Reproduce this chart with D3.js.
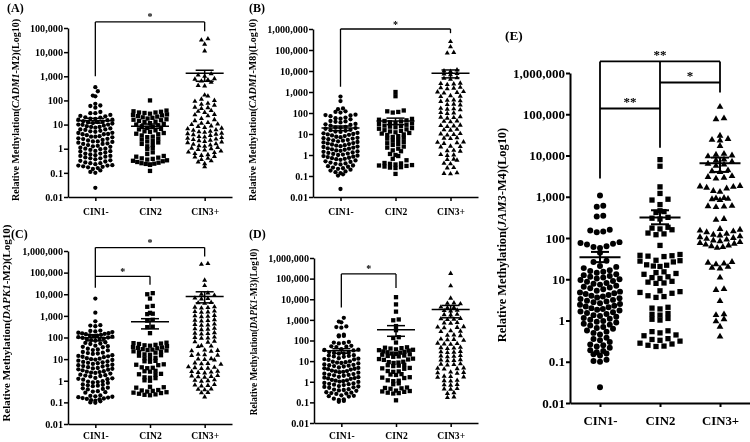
<!DOCTYPE html>
<html>
<head>
<meta charset="utf-8">
<script src="https://cdn.jsdelivr.net/npm/d3@7"></script>
<style>
  body { margin: 0; background: #fff; }
  svg { will-change: transform; }
  svg text { font-family: "Liberation Serif", "Times New Roman", serif; font-weight: bold; fill: #000; }
</style>
</head>
<body>
<div id="chart"></div>
<script>
const groups = ['CIN1-', 'CIN2', 'CIN3+'];
const ticks5 = [0.01, 0.1, 1, 10, 100, 1000, 10000, 100000];
const ticks6 = [0.01, 0.1, 1, 10, 100, 1000, 10000, 100000, 1000000];

// relative methylation, stored as log10 of the value
const aCin1 = [2.55,2.38,2.2,2.17,1.86,1.79,1.77,1.7,1.52,1.47,1.47,1.4,1.36,1.34,1.3,1.29,1.25,1.24,1.2,1.2,1.18,1.14,1.12,1.1,1.1,1.06,1.04,1.0,1.0,0.99,0.96,0.93,0.9,0.9,0.87,0.84,0.8,0.8,0.78,0.74,0.72,0.7,0.66,0.65,0.61,0.6,0.6,0.56,0.52,0.5,0.5,0.47,0.43,0.41,0.4,0.36,0.34,0.3,0.3,0.28,0.25,0.22,0.2,0.2,0.15,0.12,0.1,0.08,0.04,0.0,0.0,-0.02,-0.05,-0.09,-0.1,-0.12,-0.16,-0.2,-0.2,-0.24,-0.27,-0.3,-0.3,-0.33,-0.36,-0.4,-0.4,-0.44,-0.48,-0.5,-0.53,-0.57,-0.6,-0.6,-0.64,-0.68,-0.7,-0.7,-0.73,-0.75,-0.77,-0.8,-0.84,-0.9,-0.96,-1.0,-1.62];
const aCin2 = [2.0,1.58,1.55,1.53,1.5,1.5,1.48,1.45,1.42,1.4,1.38,1.35,1.33,1.3,1.28,1.25,1.22,1.2,1.18,1.15,1.12,1.1,1.06,1.03,1.0,0.97,0.93,0.9,0.86,0.82,0.8,0.76,0.72,0.7,0.65,0.62,0.6,0.55,0.5,0.48,0.42,0.38,0.32,0.3,0.26,0.2,0.15,0.1,0.03,-0.02,-0.15,-0.22,-0.3,-0.33,-0.37,-0.4,-0.42,-0.45,-0.48,-0.5,-0.52,-0.55,-0.58,-0.6,-0.62,-0.63,-0.65,-0.67,-0.92];
const aCin3 = [4.55,4.5,4.33,4.05,3.1,3.05,3.0,2.9,2.88,2.85,2.8,2.75,2.62,2.6,2.22,2.18,2.05,2.0,1.96,1.88,1.84,1.8,1.72,1.7,1.66,1.58,1.55,1.5,1.42,1.4,1.36,1.25,1.2,1.16,1.08,1.05,1.02,1.0,0.94,0.92,0.88,0.85,0.82,0.78,0.76,0.72,0.7,0.68,0.64,0.62,0.6,0.58,0.55,0.5,0.48,0.46,0.43,0.4,0.38,0.35,0.33,0.3,0.28,0.25,0.2,0.18,0.15,0.12,0.1,0.05,0.02,0.0,-0.03,-0.06,-0.1,-0.14,-0.16,-0.2,-0.25,-0.28,-0.32,-0.35,-0.4,-0.45,-0.5,-0.55,-0.62,-0.75];

const bCin1 = [2.78,2.57,2.22,2.18,2.08,2.05,2.02,1.92,1.9,1.88,1.85,1.78,1.75,1.73,1.7,1.62,1.6,1.58,1.55,1.48,1.46,1.43,1.4,1.34,1.32,1.3,1.28,1.25,1.2,1.18,1.15,1.12,1.1,1.05,1.03,1.0,0.98,0.96,0.93,0.9,0.87,0.85,0.82,0.8,0.78,0.75,0.72,0.7,0.68,0.65,0.62,0.6,0.57,0.55,0.52,0.5,0.47,0.45,0.42,0.4,0.38,0.35,0.32,0.3,0.27,0.25,0.22,0.2,0.17,0.15,0.12,0.1,0.07,0.05,0.02,0.0,-0.03,-0.05,-0.08,-0.1,-0.13,-0.15,-0.18,-0.2,-0.23,-0.26,-0.3,-0.33,-0.36,-0.4,-0.42,-0.45,-0.5,-0.53,-0.56,-0.6,-0.63,-0.66,-0.7,-0.74,-0.78,-0.82,-0.86,-0.92,-0.98,-1.62];
const bCin2 = [3.0,2.8,2.12,2.08,2.05,2.02,1.72,1.68,1.65,1.62,1.6,1.56,1.52,1.5,1.47,1.44,1.4,1.38,1.35,1.32,1.28,1.25,1.22,1.18,1.15,1.12,1.08,1.05,1.02,0.98,0.95,0.9,0.86,0.82,0.78,0.72,0.68,0.62,0.56,0.52,0.48,0.4,0.35,0.3,0.22,0.18,0.05,0.0,-0.05,-0.18,-0.25,-0.38,-0.4,-0.42,-0.45,-0.48,-0.5,-0.52,-0.55,-0.58,-0.6,-0.62,-0.9];
const bCin3 = [5.4,5.15,4.88,4.85,4.05,4.0,3.98,3.88,3.85,3.82,3.68,3.65,3.6,3.42,3.4,3.38,3.35,3.22,3.2,3.18,3.15,3.02,3.0,2.98,2.95,2.82,2.8,2.78,2.62,2.6,2.58,2.55,2.42,2.4,2.38,2.22,2.2,2.18,2.15,2.02,2.0,1.98,1.82,1.8,1.78,1.75,1.62,1.6,1.58,1.42,1.4,1.38,1.35,1.22,1.2,1.18,1.02,1.0,0.98,0.95,0.82,0.8,0.78,0.62,0.6,0.58,0.55,0.42,0.4,0.38,0.22,0.2,0.18,0.02,0.0,-0.02,-0.2,-0.22,-0.25,-0.4,-0.42,-0.6,-0.62,-0.85,-0.88,-0.9];

const cCin1 = [3.8,3.15,2.75,2.57,2.55,2.52,2.32,2.3,2.28,2.25,2.22,2.2,2.19,2.17,2.15,2.12,2.1,2.08,2.06,2.04,2.02,2.0,1.98,1.95,1.92,1.9,1.88,1.85,1.78,1.75,1.72,1.7,1.62,1.6,1.57,1.55,1.48,1.45,1.42,1.4,1.33,1.3,1.28,1.26,1.24,1.18,1.15,1.13,1.11,1.09,1.04,1.02,1.0,0.98,0.96,0.93,0.89,0.87,0.85,0.83,0.81,0.78,0.74,0.72,0.7,0.68,0.66,0.63,0.59,0.57,0.55,0.53,0.51,0.48,0.44,0.42,0.4,0.38,0.36,0.33,0.28,0.26,0.24,0.22,0.2,0.13,0.11,0.09,0.07,0.05,-0.02,-0.04,-0.06,-0.08,-0.1,-0.17,-0.19,-0.21,-0.23,-0.25,-0.32,-0.35,-0.38,-0.4,-0.48,-0.5,-0.53,-0.55,-0.68,-0.7,-0.72,-0.74,-0.76,-0.78,-0.8,-0.82,-0.84,-0.86,-0.9,-0.92,-0.95,-1.0,-1.02];
const cCin2 = [4.05,4.0,3.8,3.46,3.42,3.14,3.1,3.08,2.82,2.78,2.5,2.48,2.2,1.76,1.74,1.72,1.7,1.66,1.64,1.62,1.6,1.56,1.54,1.52,1.5,1.46,1.44,1.42,1.4,1.36,1.34,1.32,1.3,1.22,1.2,1.18,1.16,1.06,1.04,1.02,0.92,0.9,0.88,0.76,0.74,0.72,0.62,0.6,0.58,0.46,0.44,0.42,0.32,0.3,0.28,0.16,0.14,0.12,0.02,0.0,-0.28,-0.3,-0.32,-0.43,-0.45,-0.47,-0.5,-0.53,-0.55,-0.57,-0.6,-0.63,-0.65,-0.67];
const cCin3 = [5.42,5.38,4.65,4.4,4.05,4.0,3.95,3.82,3.8,3.78,3.62,3.6,3.58,3.42,3.4,3.38,3.36,3.22,3.2,3.18,3.16,3.02,3.0,2.98,2.96,2.82,2.8,2.78,2.76,2.62,2.6,2.58,2.56,2.42,2.4,2.38,2.36,2.22,2.2,2.18,2.16,2.02,2.0,1.98,1.96,1.82,1.8,1.78,1.62,1.6,1.58,1.42,1.4,1.38,1.36,1.22,1.2,1.18,1.16,1.02,1.0,0.98,0.96,0.82,0.8,0.78,0.76,0.64,0.62,0.6,0.58,0.56,0.44,0.42,0.4,0.38,0.36,0.24,0.22,0.2,0.18,0.16,0.04,0.02,0.0,-0.02,-0.18,-0.2,-0.22,-0.24,-0.38,-0.4,-0.42,-0.54,-0.56,-0.75];

const dCin1 = [3.1,2.92,2.88,2.68,2.65,2.62,2.28,2.25,2.22,2.2,1.93,1.9,1.88,1.86,1.74,1.72,1.7,1.68,1.58,1.56,1.54,1.52,1.44,1.42,1.4,1.38,1.36,1.29,1.27,1.25,1.23,1.21,1.14,1.12,1.1,1.08,1.06,0.99,0.97,0.95,0.93,0.91,0.89,0.84,0.82,0.8,0.78,0.76,0.74,0.69,0.67,0.65,0.63,0.61,0.59,0.54,0.52,0.5,0.48,0.46,0.44,0.39,0.37,0.35,0.33,0.31,0.29,0.24,0.22,0.2,0.18,0.16,0.14,0.09,0.07,0.05,0.03,0.01,-0.01,-0.06,-0.08,-0.1,-0.12,-0.14,-0.16,-0.21,-0.23,-0.25,-0.27,-0.29,-0.36,-0.38,-0.4,-0.42,-0.44,-0.51,-0.53,-0.55,-0.57,-0.59,-0.66,-0.68,-0.7,-0.72,-0.82,-0.85,-0.88,-0.93,-0.97];
const dCin2 = [4.1,3.75,3.4,3.02,2.98,2.7,2.5,2.16,2.12,1.9,1.67,1.65,1.63,1.61,1.57,1.55,1.53,1.51,1.47,1.45,1.43,1.41,1.37,1.35,1.33,1.31,1.27,1.25,1.23,1.21,1.12,1.1,1.08,1.06,0.97,0.95,0.93,0.91,0.82,0.8,0.78,0.76,0.67,0.65,0.63,0.52,0.5,0.48,0.37,0.35,0.33,0.22,0.2,0.18,0.07,0.05,0.03,-0.08,-0.12,-0.28,-0.3,-0.32,-0.34,-0.43,-0.45,-0.47,-0.49,-0.53,-0.55,-0.57,-0.9];
const dCin3 = [5.25,4.65,4.05,3.82,3.8,3.78,3.62,3.6,3.58,3.47,3.45,3.43,3.27,3.25,3.23,3.07,3.05,3.03,3.01,2.87,2.85,2.83,2.67,2.65,2.63,2.61,2.47,2.45,2.43,2.27,2.25,2.23,2.07,2.05,2.03,2.01,1.87,1.85,1.83,1.81,1.67,1.65,1.63,1.61,1.47,1.45,1.43,1.41,1.27,1.25,1.23,1.21,1.07,1.05,1.03,1.01,0.87,0.85,0.83,0.81,0.67,0.65,0.63,0.61,0.47,0.45,0.43,0.41,0.27,0.25,0.23,0.21,0.07,0.05,0.03,-0.13,-0.15,-0.17,-0.33,-0.35,-0.37,-0.53,-0.57,-0.74,-0.77];

const eCin1 = [3.03,2.78,2.76,2.54,2.52,2.2,2.18,2.16,2.14,1.9,1.88,1.86,1.84,1.8,1.78,1.76,1.64,1.45,1.42,1.32,1.3,1.27,1.22,1.2,1.18,1.16,1.12,1.1,1.08,1.06,1.04,1.02,1.0,0.98,0.96,0.94,0.91,0.89,0.87,0.84,0.82,0.8,0.78,0.76,0.72,0.7,0.68,0.66,0.64,0.62,0.6,0.58,0.56,0.54,0.52,0.5,0.48,0.46,0.44,0.42,0.4,0.38,0.36,0.34,0.32,0.3,0.28,0.26,0.24,0.22,0.2,0.18,0.16,0.13,0.11,0.09,0.06,0.04,0.02,-0.01,-0.03,-0.05,-0.08,-0.1,-0.12,-0.16,-0.18,-0.2,-0.24,-0.27,-0.3,-0.34,-0.42,-0.45,-0.48,-0.52,-0.58,-0.6,-0.63,-0.66,-0.72,-0.74,-0.77,-0.8,-0.82,-0.85,-0.95,-0.98,-1.0,-1.62];
const eCin2 = [3.9,3.74,3.24,3.08,2.94,2.92,2.81,2.66,2.64,2.62,2.5,2.48,2.46,2.26,2.24,2.22,2.2,2.12,2.1,2.08,1.82,1.6,1.58,1.57,1.56,1.55,1.46,1.45,1.44,1.42,1.35,1.34,1.32,1.31,1.18,1.16,1.14,1.12,1.06,1.04,1.02,0.95,0.93,0.91,0.9,0.72,0.7,0.68,0.66,0.6,0.58,0.56,0.32,0.3,0.28,0.17,0.15,0.13,0.05,0.03,0.01,-0.25,-0.27,-0.3,-0.35,-0.37,-0.44,-0.46,-0.48,-0.5,-0.55,-0.57,-0.6,-0.62,-0.63];
const eCin3 = [5.18,4.9,4.88,4.48,4.4,4.38,4.36,4.23,4.04,4.02,4.0,3.98,3.9,3.88,3.85,3.8,3.78,3.75,3.64,3.62,3.6,3.5,3.48,3.46,3.44,3.26,3.25,3.24,3.22,3.2,3.14,3.12,2.97,2.96,2.95,2.94,2.92,2.78,2.77,2.76,2.75,2.46,2.44,2.22,2.2,2.18,2.16,2.14,2.1,2.08,2.06,2.04,2.02,2.0,1.98,1.96,1.94,1.92,1.9,1.88,1.86,1.84,1.82,1.8,1.78,1.76,1.42,1.4,1.38,1.36,1.3,1.28,1.26,1.04,0.76,0.74,0.47,0.15,0.13,0.03,-0.02,-0.15,-0.39];

// mean and SEM per group (real values)
const aMean = [14.5, 8.5, 1330], aSemLo = [11.5, 7, 620], aSemHi = [18, 10.5, 1780];
const bMean = [19.5, 42, 7800], bSemLo = [14.5, 28, 4700], bSemHi = [24, 57, 11200];
const cMean = [98, 540, 7900], cSemLo = [70, 250, 4000], cSemHi = [135, 740, 13000];
const dMean = [32, 330, 3200], dSemLo = [24, 160, 1260], dSemHi = [40, 525, 5000];
const eMean = [34, 316, 6500], eSemLo = [26, 215, 4000], eSemHi = [46, 470, 8900];

// significance bars: [from, to, log10 level, label] and vertical drops [group, log10 low, log10 high]
const aSig = [['CIN1-', 'CIN3+', 5.25, '*']];
const aDrop = [['CIN1-', 3.0, 5.25], ['CIN3+', 4.87, 5.25]];
const bSig = [['CIN1-', 'CIN3+', 6.0, '*']];
const bDrop = [['CIN1-', 3.25, 6.0], ['CIN3+', 5.8, 6.0]];
const cSig = [['CIN1-', 'CIN3+', 6.16, '*'], ['CIN1-', 'CIN2', 4.83, '*']];
const cDrop = [['CIN1-', 4.3, 6.16], ['CIN2', 4.44, 4.83], ['CIN3+', 5.74, 6.16]];
const dSig = [['CIN1-', 'CIN2', 5.23, '*']];
const dDrop = [['CIN1-', 3.6, 5.23], ['CIN2', 4.55, 5.23]];
const eSig = [['CIN1-', 'CIN3+', 6.28, '**'], ['CIN2', 'CIN3+', 5.77, '*'], ['CIN1-', 'CIN2', 5.14, '**']];
const eDrop = [['CIN1-', 3.44, 6.28], ['CIN2', 4.19, 6.28], ['CIN3+', 5.53, 6.28]];

const small = { sym: [14.5, 18.5, 11], rowH: 4.6, gap: [5, 5.5, 6.5], half: 17, meanW: 19, capW: 9,
  tickFs: 10.2, catFs: 9.6, sigFs: 10, lw: 1.3, tagFs: 12 };
const big = { sym: [28, 28, 20], rowH: 6.2, gap: [6.5, 8, 8], half: 20, meanW: 20.5, capW: 9,
  tickFs: 13, catFs: 12.8, sigFs: 13, lw: 1.8, tagFs: 13.3 };

const panels = [
  { tag: '(A)', tagX: 7, tagY: 12, gene: 'CADM1', suffix: '-M2', labX: 19, labY: 110, labFs: 10,
    x0: 68, x1: 232, yTop: 28, yBot: 197, catPad: 7, ticks: ticks5, data: [aCin1, aCin2, aCin3],
    mean: aMean, lo: aSemLo, hi: aSemHi, sig: aSig, drop: aDrop, st: small },
  { tag: '(B)', tagX: 249, tagY: 12, gene: 'CADM1', suffix: '-M8', labX: 256, labY: 110, labFs: 10,
    x0: 313, x1: 478, yTop: 29, yBot: 197, catPad: 7, ticks: ticks6, data: [bCin1, bCin2, bCin3],
    mean: bMean, lo: bSemLo, hi: bSemHi, sig: bSig, drop: bDrop, st: small },
  { tag: '(C)', tagX: 11, tagY: 238, gene: 'DAPK1', suffix: '-M2', labX: 10, labY: 323, labFs: 11,
    x0: 68, x1: 232, yTop: 251, yBot: 424, catPad: 4, ticks: ticks6, data: [cCin1, cCin2, cCin3],
    mean: cMean, lo: cSemLo, hi: cSemHi, sig: cSig, drop: cDrop, st: small },
  { tag: '(D)', tagX: 249, tagY: 238, gene: 'DAPK1', suffix: '-M3', labX: 257, labY: 332, labFs: 9.3,
    x0: 314, x1: 478, yTop: 258, yBot: 423, catPad: 5, ticks: ticks6, data: [dCin1, dCin2, dCin3],
    mean: dMean, lo: dSemLo, hi: dSemHi, sig: dSig, drop: dDrop, st: small },
  { tag: '(E)', tagX: 505, tagY: 40, gene: 'JAM3', suffix: '-M4', labX: 506, labY: 235, labFs: 12.4,
    x0: 570, x1: 750, yTop: 73, yBot: 403, catPad: 9, ticks: ticks6, data: [eCin1, eCin2, eCin3],
    mean: eMean, lo: eSemLo, hi: eSemHi, sig: eSig, drop: eDrop, st: big }
];

const svg = d3.select('#chart').append('svg')
  .attr('width', 750).attr('height', 442);

const fmt = v => v >= 1 ? d3.format(',')(v) : String(v);
const shapes = [d3.symbolCircle, d3.symbolSquare, d3.symbolTriangle];

// scatter-dot layout: points falling in the same row band are spread
// side by side around the group centre, filling from the middle out
function rowLayout(vals, y, rowH, gap, half) {
  const y0 = y.range()[0];
  const pts = vals.map(v => ({ v, y: y(Math.pow(10, v)) })).sort((a, b) => b.y - a.y);
  const rows = d3.group(pts, d => Math.floor((y0 - d.y) / rowH));
  rows.forEach(arr => {
    const n = arr.length;
    const s = n > 1 ? Math.min(gap, 2 * half / (n - 1)) : 0;
    const slots = d3.range(n).map(j => (j - (n - 1) / 2) * s)
      .sort((a, b) => Math.abs(a) - Math.abs(b) || a - b);
    arr.forEach((p, j) => { p.dx = slots[j]; });
  });
  return pts;
}

function styleAxis(sel, fs, lw) {
  sel.attr('font-size', fs).attr('font-family', null);
  sel.select('.domain').attr('stroke-width', lw);
  sel.selectAll('.tick line').attr('stroke-width', lw);
}

panels.forEach(p => {
  const st = p.st;
  const g = svg.append('g');
  const y = d3.scaleLog().domain([0.01, p.ticks[p.ticks.length - 1]]).range([p.yBot, p.yTop]);
  const x = d3.scalePoint().domain(groups).range([p.x0, p.x1]).padding(0.5);

  g.append('g').attr('transform', `translate(${p.x0},0)`)
    .call(d3.axisLeft(y).tickValues(p.ticks).tickFormat(fmt).tickSize(4).tickSizeOuter(0).tickPadding(1))
    .call(styleAxis, st.tickFs, st.lw + 0.2);

  g.append('g').attr('transform', `translate(0,${p.yBot})`)
    .call(d3.axisBottom(x).tickSize(4).tickSizeOuter(0).tickPadding(p.catPad))
    .call(styleAxis, st.catFs, st.lw + 0.2);

  // y title with italic gene name
  const lab = g.append('text')
    .attr('transform', `translate(${p.labX},${p.labY}) rotate(-90)`)
    .attr('text-anchor', 'middle')
    .attr('font-size', p.labFs);
  lab.append('tspan').text('Relative Methylation(');
  lab.append('tspan').attr('font-style', 'italic').text(p.gene);
  lab.append('tspan').text(p.suffix + ')(Log10)');

  g.append('text').attr('x', p.tagX).attr('y', p.tagY)
    .attr('font-size', st.tagFs).text(p.tag);

  // points
  p.data.forEach((vals, i) => {
    const cx = x(groups[i]);
    g.append('g').selectAll('path')
      .data(rowLayout(vals, y, st.rowH, st.gap[i], st.half))
      .join('path')
      .attr('d', d3.symbol().type(shapes[i]).size(st.sym[i]))
      .attr('transform', d => `translate(${cx + d.dx},${d.y})`)
      .attr('fill', '#000');
  });

  // mean +/- SEM
  const eb = g.append('g').attr('stroke', '#000').attr('stroke-width', st.lw + 0.2).attr('fill', 'none');
  groups.forEach((grp, i) => {
    const cx = x(grp);
    eb.append('line').attr('x1', cx - st.meanW).attr('x2', cx + st.meanW)
      .attr('y1', y(p.mean[i])).attr('y2', y(p.mean[i]));
    eb.append('line').attr('x1', cx).attr('x2', cx)
      .attr('y1', y(p.lo[i])).attr('y2', y(p.hi[i]));
    [p.lo[i], p.hi[i]].forEach(v => {
      eb.append('line').attr('x1', cx - st.capW).attr('x2', cx + st.capW)
        .attr('y1', y(v)).attr('y2', y(v));
    });
  });

  // significance brackets
  const br = g.append('g').attr('stroke', '#000').attr('stroke-width', st.lw).attr('fill', 'none');
  p.drop.forEach(([grp, a, b]) => {
    br.append('line').attr('x1', x(grp)).attr('x2', x(grp))
      .attr('y1', y(Math.pow(10, a))).attr('y2', y(Math.pow(10, b)));
  });
  p.sig.forEach(([g1, g2, lvl, txt]) => {
    const yy = y(Math.pow(10, lvl));
    br.append('line').attr('x1', x(g1)).attr('x2', x(g2)).attr('y1', yy).attr('y2', yy);
    g.append('text').attr('x', (x(g1) + x(g2)) / 2).attr('y', yy - (st === big ? 2.5 : 1.5))
      .attr('text-anchor', 'middle').attr('font-size', st.sigFs).attr('fill', '#000').text(txt);
  });
});
</script>
</body>
</html>
